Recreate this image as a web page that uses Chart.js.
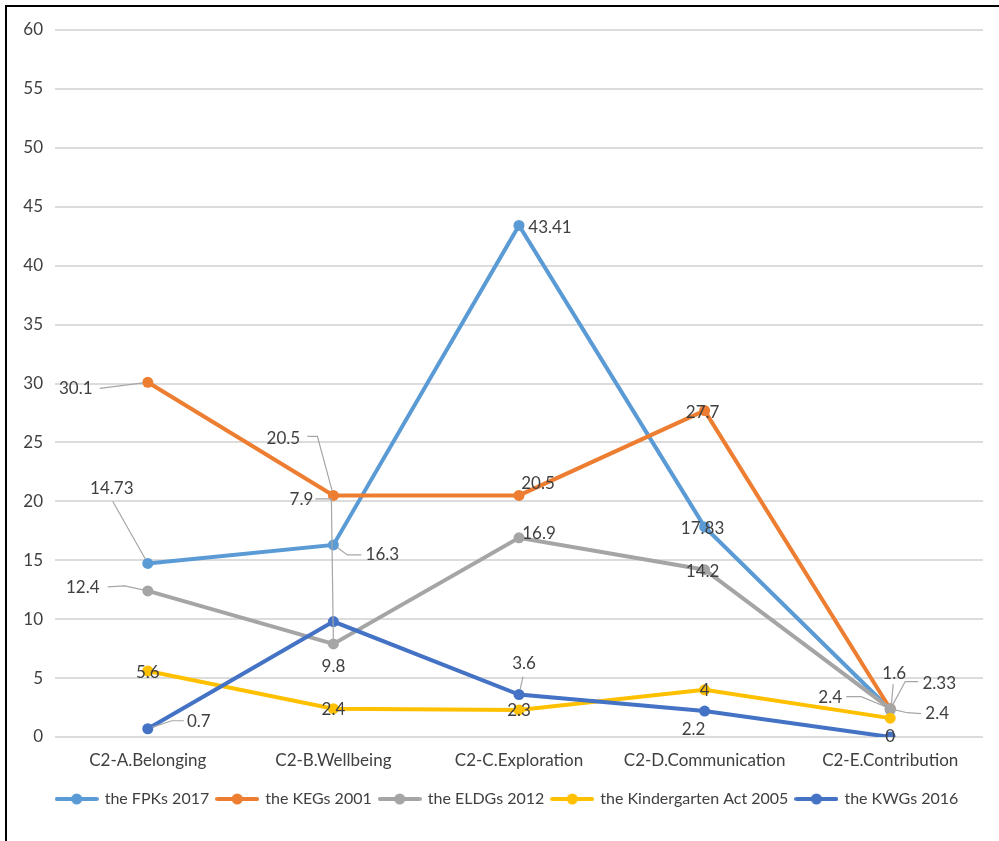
<!DOCTYPE html>
<html>
<head>
<meta charset="utf-8">
<script src="https://cdn.jsdelivr.net/npm/chart.js@4/dist/chart.umd.min.js"></script>
<style>
  html, body { margin: 0; padding: 0; background: #ffffff; }
  #wrap { position: relative; width: 999px; height: 841px; }
  #frame {
    position: absolute; left: 5px; top: 5px; right: 0; bottom: 0;
    border-top: 2px solid #000; border-left: 2px solid #000;
    pointer-events: none;
  }
</style>
</head>
<body>
<div id="wrap">
  <canvas id="chart" width="999" height="841"></canvas>
  <div id="frame"></div>
</div>
<script>
// Curriculum areas (x axis)
const categories = ['C2-A.Belonging', 'C2-B.Wellbeing', 'C2-C.Exploration', 'C2-D.Communication', 'C2-E.Contribution'];

// Series names
const seriesNames = ['the FPKs 2017', 'the KEGs 2001', 'the ELDGs 2012', 'the Kindergarten Act 2005', 'the KWGs 2016'];

// Percentages per document
const fpks2017   = [14.73, 16.3, 43.41, 17.83, 2.33];
const kegs2001   = [30.1, 20.5, 20.5, 27.7, 2.4];
const eldgs2012  = [12.4, 7.9, 16.9, 14.2, 2.4];
const kinderAct2005 = [5.6, 2.4, 2.3, 4, 1.6];
const kwgs2016   = [0.7, 9.8, 3.6, 2.2, 0];

// Y axis ticks
const yTicks = [0, 5, 10, 15, 20, 25, 30, 35, 40, 45, 50, 55, 60];

const seriesValues = [fpks2017, kegs2001, eldgs2012, kinderAct2005, kwgs2016];
const seriesColors = ['#5B9BD5', '#ED7D31', '#A5A5A5', '#FFC000', '#4472C4'];

// Data label placement: offset of the label from its point, plus optional
// leader-line vertices (relative to the point) ending at the point itself.
const labelPlacement = [
  [ {dx:-36, dy:-75, lead:[[-35,-62]]},
    {dx:49, dy:10, lead:[[28,10],[14,10]]},
    {dx:31, dy:2},
    {dx:-2, dy:2},
    {dx:49, dy:-26, lead:[[28,-28],[15,-28]]} ],
  [ {dx:-72, dy:6, lead:[[-48,6]]},
    {dx:-50, dy:-57, lead:[[-26,-59],[-16,-59]]},
    {dx:19, dy:-12},
    {dx:-2, dy:2},
    {dx:-60, dy:-11, lead:[[-44,-12],[-29,-12]]} ],
  [ {dx:-65, dy:-3, lead:[[-40,-4],[-23,-5]]},
    {dx:-32, dy:-144, lead:[[-18,-145],[-2,-145]]},
    {dx:20, dy:-4},
    {dx:-2, dy:2},
    {dx:47, dy:5, lead:[[31,5],[17,4]]} ],
  [ {dx:0, dy:2}, {dx:0, dy:1}, {dx:0, dy:1}, {dx:0, dy:1},
    {dx:4, dy:-45, lead:[[3,-34]]} ],
  [ {dx:51, dy:-7, lead:[[36,-8],[24,-8]]},
    {dx:0, dy:45},
    {dx:5, dy:-31, lead:[[4,-18]]},
    {dx:-11, dy:18},
    {dx:0, dy:0} ]
];

const FONT = 'Lato, "Open Sans", sans-serif';
const TEXT = '#404040';

// Legend marker: a short line with a round point in the middle
function legendMarker(color) {
  const c = document.createElement('canvas');
  c.width = 44; c.height = 12;
  const g = c.getContext('2d');
  g.strokeStyle = color; g.lineWidth = 4; g.lineCap = 'round';
  g.beginPath(); g.moveTo(2, 6); g.lineTo(42, 6); g.stroke();
  g.fillStyle = color;
  g.beginPath(); g.arc(22, 6, 5.5, 0, Math.PI * 2); g.fill();
  return c;
}

const datasets = seriesNames.map((name, i) => ({
  label: name,
  data: seriesValues[i],
  borderColor: seriesColors[i],
  backgroundColor: seriesColors[i],
  borderWidth: 4,
  pointRadius: 5.5,
  pointBorderWidth: 0,
  pointBackgroundColor: seriesColors[i],
  tension: 0,
  order: seriesNames.length - 1 - i,
  legendMarker: legendMarker(seriesColors[i])
}));

// Draws value labels with their leader lines
const valueLabels = {
  id: 'valueLabels',
  afterDatasetsDraw(chart) {
    const ctx = chart.ctx;
    ctx.save();
    chart.data.datasets.forEach((ds, i) => {
      const meta = chart.getDatasetMeta(i);
      meta.data.forEach((pt, j) => {
        const p = labelPlacement[i][j];
        if (p.lead) {
          const verts = p.lead.map(v => [pt.x + v[0], pt.y + v[1]]);
          const last = verts[verts.length - 1];
          const vx = pt.x - last[0], vy = pt.y - last[1];
          const len = Math.hypot(vx, vy) || 1;
          const end = [pt.x - vx / len * 5, pt.y - vy / len * 5];
          ctx.strokeStyle = '#A6A6A6';
          ctx.lineWidth = 1.2;
          ctx.beginPath();
          ctx.moveTo(verts[0][0], verts[0][1]);
          for (let k = 1; k < verts.length; k++) ctx.lineTo(verts[k][0], verts[k][1]);
          ctx.lineTo(end[0], end[1]);
          ctx.stroke();
        }
        ctx.fillStyle = TEXT;
        ctx.font = '17px ' + FONT;
        ctx.textAlign = 'center';
        ctx.textBaseline = 'middle';
        ctx.fillText(String(ds.data[j]), pt.x + p.dx, pt.y + p.dy);
      });
    });
    ctx.restore();
  }
};

// Nudges the centred legend row to sit under the plot area
const legendShift = {
  id: 'legendShift',
  afterLayout(chart) {
    const lg = chart.legend;
    if (lg) { lg.left += 16; lg.right += 16; }
  }
};

new Chart(document.getElementById('chart'), {
  type: 'line',
  data: { labels: categories, datasets },
  options: {
    responsive: false,
    animation: false,
    layout: { padding: { top: 30, right: 16, bottom: 24, left: 0 } },
    scales: {
      x: {
        offset: true,
        grid: { display: false, drawTicks: false, offset: true },
        border: { display: false },
        ticks: { color: TEXT, font: { family: FONT, size: 17 }, padding: 13, maxRotation: 0 },
        afterFit(scale) { scale.height = 46; }
      },
      y: {
        min: 0, max: 60,
        afterBuildTicks(scale) { scale.ticks = yTicks.map(v => ({ value: v })); },
        grid: { color: '#DCDCDC', lineWidth: 2, drawTicks: false },
        border: { display: false },
        ticks: { color: TEXT, font: { family: FONT, size: 17 }, padding: 12 },
        afterFit(scale) { scale.width = 55; }
      }
    },
    plugins: {
      tooltip: { enabled: false },
      legend: {
        position: 'bottom',
        labels: {
          color: TEXT,
          font: { family: FONT, size: 16 },
          usePointStyle: true,
          pointStyleWidth: 40,
          padding: 8,
          generateLabels(chart) {
            return chart.data.datasets.map((ds, i) => ({
              text: ds.label,
              pointStyle: ds.legendMarker,
              fillStyle: ds.borderColor,
              strokeStyle: ds.borderColor,
              lineWidth: 0,
              fontColor: TEXT,
              hidden: false,
              datasetIndex: i
            }));
          }
        }
      }
    }
  },
  plugins: [valueLabels, legendShift]
});
</script>
</body>
</html>
